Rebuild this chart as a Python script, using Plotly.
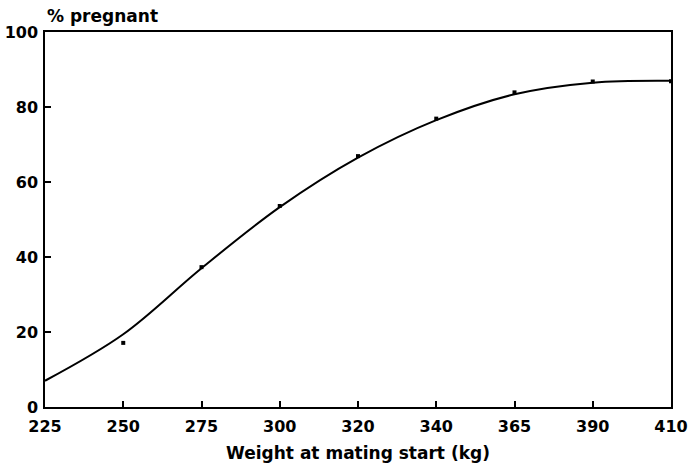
import plotly.graph_objects as go

# Data
categories = ["225", "250", "275", "300", "320", "340", "365", "390", "410"]
observed_x = ["250", "275", "300", "320", "340", "365", "390", "410"]
observed_pct = [17.1, 37.3, 53.6, 66.9, 76.9, 83.9, 86.8, 86.9]
fitted_pct = [7.0, 19.4, 37.0, 53.3, 66.5, 76.5, 83.4, 86.5, 87.0]
y_ticks = [0, 20, 40, 60, 80, 100]

pos = {c: i for i, c in enumerate(categories)}

FONT = "DejaVu Sans"

fig = go.Figure()
fig.add_trace(go.Scatter(
    x=[pos[c] for c in categories], y=fitted_pct,
    mode="lines", line=dict(color="black", width=2, shape="spline", smoothing=1.0),
    hoverinfo="skip", showlegend=False,
))
fig.add_trace(go.Scatter(
    x=[pos[c] for c in observed_x], y=observed_pct,
    mode="markers", marker=dict(symbol="square", size=4, color="black"),
    showlegend=False,
))

fig.update_layout(
    width=691, height=468,
    margin=dict(l=45, r=20, t=32, b=61),
    paper_bgcolor="white", plot_bgcolor="white",
    font=dict(family=FONT, color="black", size=16),
    xaxis=dict(
        range=[0, len(categories) - 1],
        tickvals=list(range(len(categories))), ticktext=categories,
        ticks="inside", ticklen=6, tickwidth=1.5, tickcolor="black",
        showline=True, linecolor="black", linewidth=1.5, mirror=True,
        showgrid=False, zeroline=False, automargin=False,
        tickfont=dict(family=FONT, size=16, weight="bold"),
        ticklabelstandoff=4,
        title=dict(text="<b>Weight at mating start (kg)</b>",
                   font=dict(family=FONT, size=17), standoff=12),
    ),
    yaxis=dict(
        range=[0, 100], tickvals=y_ticks,
        ticks="inside", ticklen=6, tickwidth=1.5, tickcolor="black",
        showline=True, linecolor="black", linewidth=1.5, mirror=True,
        showgrid=False, zeroline=False, automargin=False,
        tickfont=dict(family=FONT, size=16, weight="bold"),
        ticklabelstandoff=2,
    ),
    annotations=[dict(
        text="<b>% pregnant</b>", xref="paper", yref="paper",
        x=0, y=1, xanchor="left", yanchor="bottom", yshift=4,
        showarrow=False, font=dict(family=FONT, size=17, color="black"),
    )],
)

fig.write_html("out.html", config={"displayModeBar": False},
               post_script="document.body.style.margin='0';")
